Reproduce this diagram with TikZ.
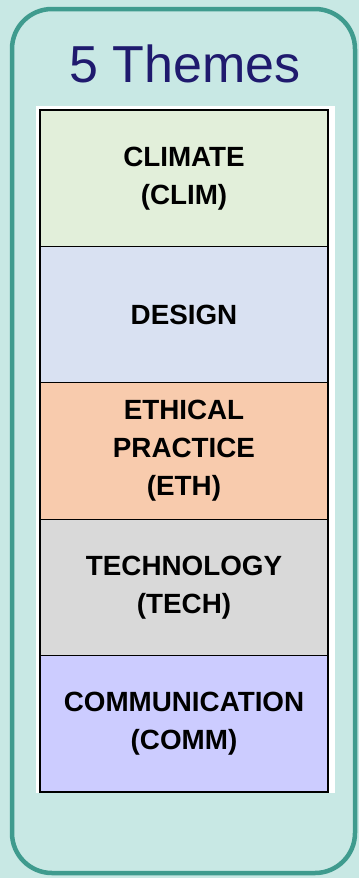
\documentclass[tikz,border=0pt]{standalone}
\usepackage{fontspec}
\setmainfont{Liberation Sans}
\usetikzlibrary{positioning}
\definecolor{bgteal}{HTML}{C8E8E4}
\definecolor{frameteal}{HTML}{3F9B8E}
\definecolor{titleblue}{HTML}{1F1A6E}
\definecolor{climcol}{HTML}{E2EFDA}
\definecolor{descol}{HTML}{D9E1F2}
\definecolor{ethcol}{HTML}{F8CBAD}
\definecolor{techcol}{HTML}{D9D9D9}
\definecolor{commcol}{HTML}{CCCCFF}
\begin{document}
\begin{tikzpicture}[x=1pt,y=-1pt,node distance=0pt,
                    theme node/.style={draw=black,line width=1.2pt,outer sep=0pt,inner sep=0pt,
                      minimum width=288pt,minimum height=136.4pt,align=center,
                      font=\fontsize{27.8}{38}\selectfont\bfseries}
                   ]
  \useasboundingbox[fill=bgteal] (0,0) rectangle (359,878);
  \draw[frameteal,line width=4.5pt,rounded corners=40pt] (12,9) rectangle (355,873);
  \fill[white] (36,106) rectangle (335,793);
  \node[anchor=base,text=titleblue,font=\fontsize{52}{60}\selectfont] (title) at (185,82) {5 Themes};
  \node[theme node,fill=climcol,anchor=north] (clim) at (184,110) {CLIMATE\\(CLIM)};
  \node[theme node,fill=descol,below=of clim] (des) {DESIGN};
  \node[theme node,fill=ethcol,below=of des] (eth) {ETHICAL\\PRACTICE\\(ETH)};
  \node[theme node,fill=techcol,below=of eth] (tech) {TECHNOLOGY\\(TECH)};
  \node[theme node,fill=commcol,below=of tech] (comm) {COMMUNICATION\\(COMM)};
\end{tikzpicture}
\end{document}
